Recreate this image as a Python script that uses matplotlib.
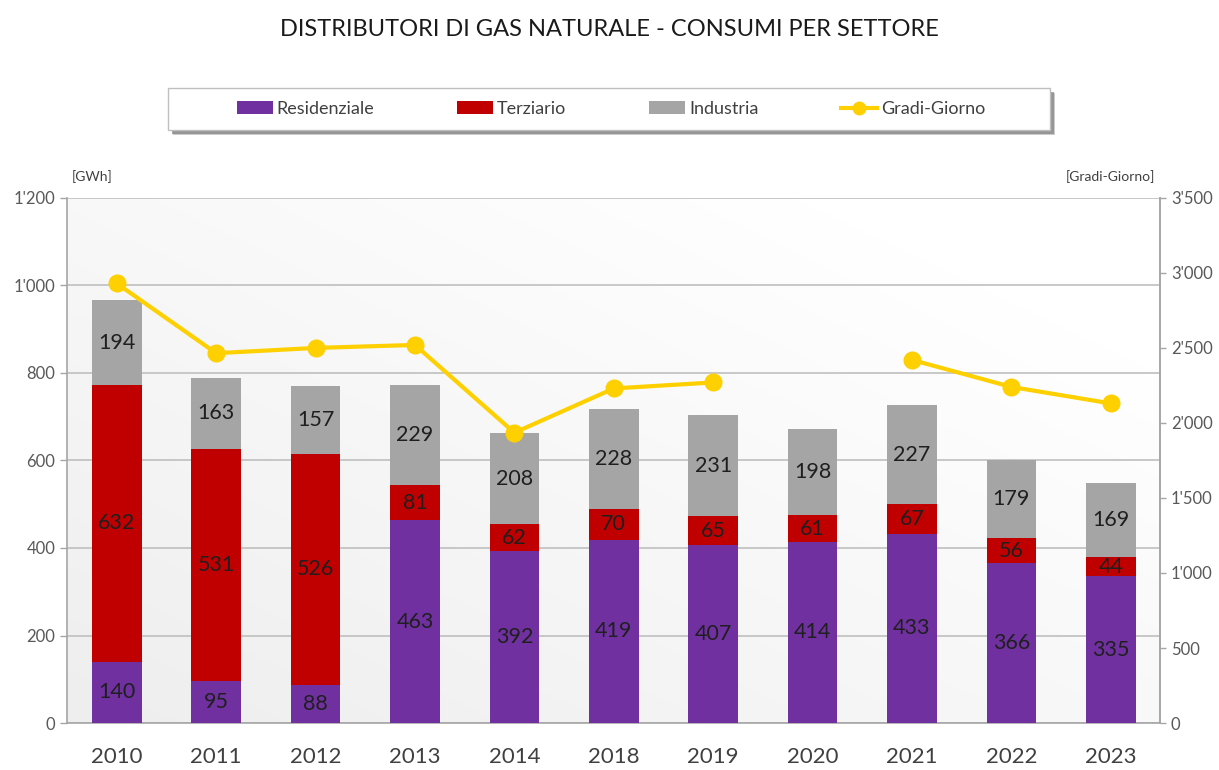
import numpy as np
import matplotlib
matplotlib.use("Agg")
import matplotlib.pyplot as plt
from matplotlib.ticker import FuncFormatter, MultipleLocator
from matplotlib.colors import LinearSegmentedColormap
from matplotlib.lines import Line2D
from matplotlib.patches import Rectangle

years = ["2010", "2011", "2012", "2013", "2014", "2018", "2019", "2020", "2021", "2022", "2023"]
residenziale = [140, 95, 88, 463, 392, 419, 407, 414, 433, 366, 335]
terziario = [632, 531, 526, 81, 62, 70, 65, 61, 67, 56, 44]
industria = [194, 163, 157, 229, 208, 228, 231, 198, 227, 179, 169]
gradi_giorno = [2930, 2465, 2500, 2520, 1935, 2230, 2270, np.nan, 2420, 2240, 2130]

plt.rcParams['font.family'] = ['Lato', 'DejaVu Sans']

c_res = "#7030A0"
c_ter = "#C00000"
c_ind = "#A5A5A5"
c_gg = "#FFD000"

W, H = 1219, 770
fig = plt.figure(figsize=(W / 100, H / 100), dpi=100)
ax = fig.add_axes([0.055, 0.061, 0.897, 0.682])

# gradient background
g = np.linspace(0, 1, 200)
X, Y = np.meshgrid(g, g)
Z = np.clip(0.6 * X + 0.6 * Y, 0, 1)
cmap = LinearSegmentedColormap.from_list("bg", ["#EEEEEE", "#FFFFFF"])
ax.imshow(Z, extent=[0, 1, 0, 1], transform=ax.transAxes, origin="lower",
          cmap=cmap, aspect="auto", zorder=0)

x = np.arange(len(years))
w = 0.5
res = np.array(residenziale)
ter = np.array(terziario)
ind = np.array(industria)
b1 = ax.bar(x, res, w, color=c_res, zorder=3, label="Residenziale")
b2 = ax.bar(x, ter, w, bottom=res, color=c_ter, zorder=3, label="Terziario")
b3 = ax.bar(x, ind, w, bottom=res + ter, color=c_ind, zorder=3, label="Industria")

lab_kw = dict(ha="center", va="center", fontsize=15.5, color="#1F1F1F", zorder=5)
for i in range(len(years)):
    ax.text(x[i], res[i] / 2, str(res[i]), **lab_kw)
    ax.text(x[i], res[i] + ter[i] / 2, str(ter[i]), **lab_kw)
    ax.text(x[i], res[i] + ter[i] + ind[i] / 2, str(ind[i]), **lab_kw)

ax.set_xlim(-0.5, len(years) - 0.5)
ax.set_ylim(0, 1200)
ax.yaxis.set_major_locator(MultipleLocator(200))
fmt = FuncFormatter(lambda v, p: f"{int(v):,}".replace(",", "'"))
ax.yaxis.set_major_formatter(fmt)
ax.grid(axis="y", color="#BFBFBF", linewidth=1.2, zorder=1)
ax.set_axisbelow(True)
ax.set_xticks(x)
ax.set_xticklabels(years, fontsize=16, color="#404040")
ax.tick_params(axis="x", length=0, pad=17)
ax.tick_params(axis="y", labelsize=12, labelcolor="#595959", color="#A6A6A6", length=5, width=1)
ax.spines["top"].set_visible(False)
for s in ["left", "bottom", "right"]:
    ax.spines[s].set_color("#A6A6A6")
    ax.spines[s].set_linewidth(1.2)

ax2 = ax.twinx()
ax2.plot(x, gradi_giorno, color=c_gg, linewidth=3, marker="o", markersize=12,
         zorder=6, label="Gradi-Giorno")
ax2.set_ylim(0, 3500)
ax2.yaxis.set_major_locator(MultipleLocator(500))
ax2.yaxis.set_major_formatter(fmt)
ax2.tick_params(axis="y", labelsize=12, labelcolor="#595959", color="#A6A6A6", length=4, width=1)
for s in ["top", "left", "bottom"]:
    ax2.spines[s].set_visible(False)
ax2.spines["right"].set_color("#A6A6A6")
ax2.spines["right"].set_linewidth(1.2)

fig.text(0.059, 0.762, "[GWh]", fontsize=10, color="#404040", ha="left", va="bottom")
fig.text(0.948, 0.762, "[Gradi-Giorno]", fontsize=10, color="#404040", ha="right", va="bottom")

fig.text(0.5, 0.962, "DISTRIBUTORI DI GAS NATURALE - CONSUMI PER SETTORE",
         ha="center", va="center", fontsize=17, color="#1A1A1A")

# legend box with shadow
bx0, bx1, by0, by1 = 168, 1050, 88, 130
for off, col, a in [(5, "#9A9A9A", 0.5), (4, "#7F7F7F", 0.7)]:
    fig.patches.append(Rectangle(((bx0 + off) / W, 1 - (by1 + off) / H),
                                 (bx1 - bx0) / W, (by1 - by0) / H,
                                 transform=fig.transFigure, facecolor=col,
                                 edgecolor="none", alpha=a, zorder=1))
fig.patches.append(Rectangle((bx0 / W, 1 - by1 / H), (bx1 - bx0) / W, (by1 - by0) / H,
                             transform=fig.transFigure, facecolor="white",
                             edgecolor="#BFBFBF", linewidth=1, zorder=2))

gg_handle = Line2D([], [], color=c_gg, linewidth=3, marker="o", markersize=9)
handles = [b1, b2, b3, gg_handle]
labels = ["Residenziale", "Terziario", "Industria", "Gradi-Giorno"]
leg = fig.legend(handles, labels, loc="center", bbox_to_anchor=(611 / W, 1 - 109 / H),
                 ncol=4, frameon=False,
                 fontsize=13, columnspacing=4.6, handlelength=2.0, handletextpad=0.2,
                 borderpad=0, borderaxespad=0)
leg.set_zorder(3)
for t in leg.get_texts():
    t.set_color("#404040")

fig.savefig("out.png", dpi=100)
